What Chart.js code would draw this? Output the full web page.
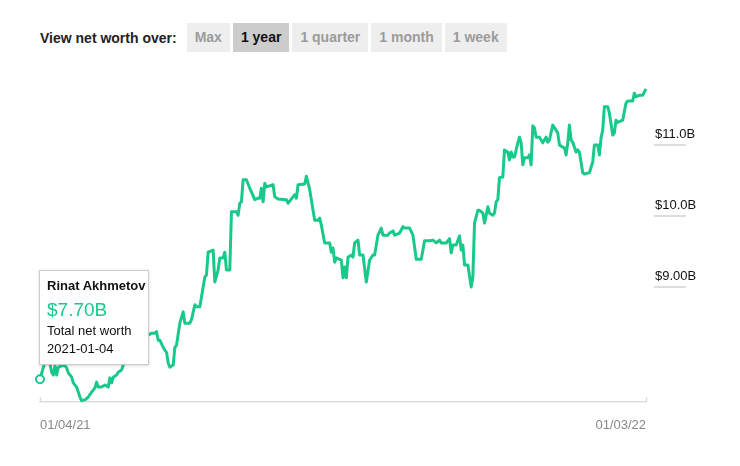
<!DOCTYPE html>
<html>
<head>
<meta charset="utf-8">
<script src="https://cdn.jsdelivr.net/npm/chart.js@4.4.1/dist/chart.umd.min.js"></script>
<style>
  body { margin: 0; background: #fff; font-family: "Liberation Sans", Arial, sans-serif; }
  #wrap { position: relative; width: 740px; height: 466px; overflow: hidden; }
  #controls { position: absolute; left: 40px; top: 23px; height: 29px; display: flex; align-items: center; }
  #controls .lbl { font-size: 14px; font-weight: bold; color: #222; margin-right: 10px; }
  #controls .btn { height: 29px; line-height: 29px; padding: 0 8px; margin-right: 3px; background: #eee;
    color: #9b9b9b; font-size: 14px; font-weight: bold; }
  #controls .btn.on { background: #ccc; color: #111; }
  #box { position: absolute; left: 0; top: 60px; width: 740px; height: 390px; }
  #tip { position: absolute; width: 110px; height: 95px; box-sizing: border-box; background: #fff;
    border: 1px solid #ccc; box-shadow: 0 1px 3px rgba(0,0,0,0.15); padding: 5px 7px; color: #111;
    white-space: nowrap; }
  #tip .name { font-size: 13px; font-weight: bold; line-height: 19px; }
  #tip .val { font-size: 19px; line-height: 24px; margin-top: 3px; color: #19c98a; }
  #tip .sub { font-size: 13px; line-height: 18px; }
</style>
</head>
<body>
<div id="wrap">
  <div id="controls">
    <span class="lbl">View net worth over:</span>
    <span class="btn">Max</span>
    <span class="btn on">1 year</span>
    <span class="btn">1 quarter</span>
    <span class="btn">1 month</span>
    <span class="btn">1 week</span>
  </div>
  <div id="box"><canvas id="worthChart" width="740" height="390"></canvas></div>
  <div id="tip">
    <div class="name">Rinat Akhmetov</div>
    <div class="val" id="tipVal"></div>
    <div class="sub">Total net worth</div>
    <div class="sub" id="tipDate"></div>
  </div>
</div>
<script>
// days since 2021-01-04 and net worth in $B
const startDate = '2021-01-04';
const days = [0, 2, 3, 5, 6, 7, 8, 9, 10, 11, 13, 15, 16, 17, 19, 20, 22, 24, 25, 27, 29, 31, 33, 34, 35, 37, 39, 41, 42, 43, 44, 46, 47, 49, 50, 51, 54, 57, 60, 63, 65, 67, 69, 70, 71, 72, 74, 75, 76, 77, 78, 80, 81, 82, 84, 86, 87, 90, 91, 93, 94, 96, 97, 99, 100, 101, 104, 105, 107, 108, 110, 111, 112, 114, 115, 118, 119, 120, 121, 122, 124, 126, 127, 129, 131, 132, 133, 134, 135, 136, 140, 141, 143, 148, 149, 151, 153, 154, 155, 159, 160, 162, 164, 165, 167, 168, 169, 171, 174, 175, 176, 177, 178, 181, 182, 183, 184, 185, 187, 188, 189, 191, 192, 194, 196, 198, 200, 201, 203, 205, 206, 209, 210, 212, 213, 216, 218, 219, 222, 224, 226, 229, 231, 234, 236, 238, 240, 241, 244, 246, 247, 248, 250, 252, 253, 254, 255, 257, 259, 260, 261, 263, 264, 266, 267, 269, 270, 272, 273, 274, 275, 276, 278, 279, 281, 282, 283, 284, 285, 287, 288, 289, 290, 291, 293, 294, 295, 296, 297, 298, 300, 302, 303, 304, 305, 306, 308, 311, 312, 314, 315, 316, 317, 318, 319, 320, 322, 323, 324, 326, 327, 330, 332, 333, 335, 336, 337, 338, 339, 341, 342, 344, 345, 346, 347, 350, 351, 352, 353, 356, 357, 358, 360, 362, 364];
const worth = [7.70, 7.87, 7.93, 7.94, 7.92, 7.80, 7.76, 7.89, 7.76, 7.87, 7.89, 7.89, 7.86, 7.79, 7.73, 7.65, 7.59, 7.45, 7.40, 7.41, 7.45, 7.52, 7.58, 7.66, 7.59, 7.59, 7.62, 7.59, 7.72, 7.65, 7.73, 7.76, 7.80, 7.83, 7.90, 7.94, 8.08, 8.18, 8.25, 8.28, 8.32, 8.35, 8.35, 8.37, 8.25, 8.25, 8.15, 8.11, 8.08, 7.93, 7.87, 7.90, 8.15, 8.18, 8.49, 8.65, 8.49, 8.49, 8.54, 8.75, 8.72, 8.72, 8.86, 9.14, 9.17, 9.49, 9.52, 9.07, 9.24, 9.41, 9.41, 9.49, 9.24, 9.24, 10.06, 10.06, 10.01, 10.18, 10.20, 10.51, 10.51, 10.39, 10.34, 10.23, 10.25, 10.25, 10.39, 10.20, 10.46, 10.41, 10.44, 10.27, 10.24, 10.23, 10.18, 10.24, 10.30, 10.25, 10.44, 10.45, 10.56, 10.37, 10.08, 9.94, 9.94, 9.97, 9.87, 9.62, 9.62, 9.49, 9.55, 9.35, 9.41, 9.38, 9.13, 9.28, 9.13, 9.42, 9.45, 9.42, 9.62, 9.66, 9.45, 9.45, 9.07, 9.38, 9.45, 9.45, 9.73, 9.83, 9.73, 9.73, 9.76, 9.79, 9.73, 9.76, 9.85, 9.83, 9.83, 9.73, 9.39, 9.39, 9.65, 9.65, 9.66, 9.62, 9.66, 9.62, 9.62, 9.68, 9.48, 9.59, 9.59, 9.72, 9.52, 9.59, 9.31, 9.31, 9.00, 9.14, 9.90, 10.08, 10.08, 10.04, 9.90, 10.13, 10.04, 10.01, 10.04, 10.20, 10.23, 10.54, 10.55, 10.93, 10.90, 10.79, 10.90, 10.83, 10.83, 11.03, 11.11, 11.03, 10.72, 10.82, 10.82, 10.86, 10.72, 11.27, 11.24, 11.11, 11.11, 11.03, 11.07, 11.11, 11.04, 11.07, 11.28, 11.17, 11.00, 10.97, 10.96, 10.86, 11.03, 11.28, 11.07, 11.04, 10.90, 10.93, 10.90, 10.61, 10.59, 10.61, 10.76, 11.00, 11.00, 10.86, 11.10, 11.21, 11.54, 11.54, 11.45, 11.14, 11.17, 11.35, 11.32, 11.35, 11.47, 11.59, 11.62, 11.62, 11.73, 11.68, 11.70, 11.70, 11.79];
const xTickDays = [0, 364];
const xTickLabels = ['01/04/21', '01/03/22'];
const yTickValues = [9, 10, 11];
const yTickLabels = ['$9.00B', '$10.0B', '$11.0B'];

const green = '#19c98a';

// short underline under each y label, little end marks on the time axis
const axisMarks = {
    id: 'axisMarks',
    afterDraw(chart) {
        const ctx = chart.ctx;
        const area = chart.chartArea;
        const y = chart.scales.y;
        const x = chart.scales.x;
        ctx.save();
        ctx.strokeStyle = '#dddddd';
        ctx.lineWidth = 2;
        yTickValues.forEach(v => {
            const py = Math.round(y.getPixelForValue(v));
            ctx.beginPath();
            ctx.moveTo(area.right + 8, py);
            ctx.lineTo(area.right + 40, py);
            ctx.stroke();
        });
        ctx.lineWidth = 1.5;
        xTickDays.forEach(d => {
            const px = Math.round(x.getPixelForValue(d)) + 0.5;
            ctx.beginPath();
            ctx.moveTo(px, area.bottom);
            ctx.lineTo(px, area.bottom - 5);
            ctx.stroke();
        });
        ctx.restore();

        // place the info box over the first point
        const pt = chart.getDatasetMeta(0).data[0];
        const tip = document.getElementById('tip');
        tip.style.left = (pt.x - 1) + 'px';
        tip.style.top = (pt.y + 60 - 109) + 'px';
    }
};

const ctx = document.getElementById('worthChart').getContext('2d');
const chart = new Chart(ctx, {
    type: 'line',
    data: {
        datasets: [{
            label: 'Rinat Akhmetov',
            data: days.map((d, i) => ({ x: d, y: worth[i] })),
            borderColor: green,
            borderWidth: 3,
            borderJoinStyle: 'round',
            tension: 0,
            fill: false,
            clip: false,
            pointRadius: c => c.dataIndex === 0 ? 4 : 0,
            pointBackgroundColor: '#fff',
            pointBorderColor: green,
            pointBorderWidth: 2,
            pointHoverRadius: 0,
        }]
    },
    options: {
        responsive: false,
        animation: false,
        events: [],
        layout: { padding: { top: 25, left: 40, right: 0, bottom: 0 } },
        plugins: { legend: { display: false }, tooltip: { enabled: false } },
        scales: {
            x: {
                type: 'linear',
                min: 0,
                max: 364,
                afterBuildTicks: s => { s.ticks = xTickDays.map(v => ({ value: v })); },
                afterFit: s => { s.height = 48; },
                grid: { display: false, drawTicks: false },
                border: { display: true, color: '#dddddd', width: 1.5 },
                ticks: {
                    align: 'inner',
                    maxRotation: 0,
                    padding: 16,
                    color: '#888',
                    font: { family: 'Liberation Sans', size: 13 },
                    callback: (v, i) => xTickLabels[i],
                },
            },
            y: {
                position: 'right',
                min: 7.38,
                max: 11.845,
                afterBuildTicks: s => { s.ticks = yTickValues.map(v => ({ value: v })); },
                afterFit: s => { s.width = 94; },
                grid: { display: false, drawTicks: false },
                border: { display: false },
                ticks: {
                    padding: 9,
                    labelOffset: -11,
                    color: '#111',
                    font: { family: 'Liberation Sans', size: 13 },
                    callback: (v, i) => yTickLabels[i],
                },
            }
        }
    },
    plugins: [axisMarks]
});

document.getElementById('tipVal').textContent = '$' + worth[0].toFixed(2) + 'B';
document.getElementById('tipDate').textContent = startDate;
</script>
</body>
</html>
